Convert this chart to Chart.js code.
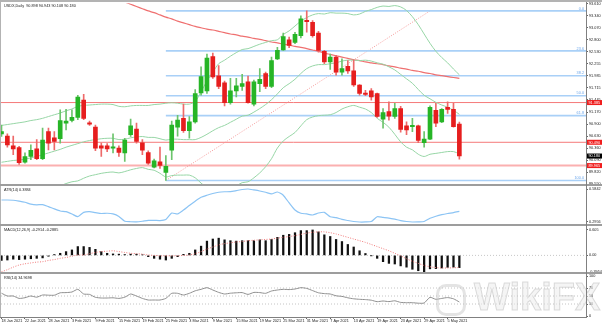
<!DOCTYPE html>
<html>
<head>
<meta charset="utf-8">
<script src="https://cdn.jsdelivr.net/npm/chart.js@4.4.1/dist/chart.umd.min.js"></script>
<style>
  html, body { margin: 0; padding: 0; background: #fff; }
  #wrap { position: relative; width: 602px; height: 325px; overflow: hidden; background: #fff; }
  #wrap canvas { position: absolute; left: 0; }
  .line { position: absolute; }
  #mark { position: absolute; left: 436px; top: 276px; white-space: nowrap; line-height: 40px;
          font: bold 38px "Liberation Sans", sans-serif; color: rgba(236, 236, 236, 0.55);
          -webkit-text-stroke: 1px rgba(180, 180, 180, 0.45); }
  #mark span.icon { display: inline-block; width: 30px; height: 32px; border: 3px solid rgba(195,195,195,0.45);
          border-radius: 10px; vertical-align: -6px; margin-right: 8px; box-sizing: border-box; }
</style>
</head>
<body>
<div id="wrap">
  <canvas id="mainChart" width="602" height="190" style="top:0"></canvas>
  <canvas id="atrChart" width="602" height="50" style="top:180px"></canvas>
  <canvas id="macdChart" width="602" height="58" style="top:220px"></canvas>
  <canvas id="rsiChart" width="602" height="57" style="top:268px"></canvas>
  <div id="mark"><span class="icon"></span>WikiFX</div>
  <div class="line" style="left:0;top:0;width:602px;height:2px;background:#b3b3b3"></div>
  <div class="line" style="left:0;top:0;width:1px;height:318px;background:#b3b3b3"></div>
  <div class="line" style="left:0;top:184px;width:602px;height:2px;background:#9d9d9d"></div>
  <div class="line" style="left:0;top:224px;width:602px;height:2px;background:#9d9d9d"></div>
  <div class="line" style="left:0;top:272px;width:602px;height:2px;background:#9d9d9d"></div>
  <div class="line" style="left:0;top:317px;width:587px;height:1px;background:#808080"></div>
  <div class="line" style="left:586px;top:2px;width:1px;height:316px;background:#808080"></div>
</div>
<script>
// daily candles, 18 Jan 2021 .. 7 May 2021
const opens = [90.68, 90.63, 90.41, 90.37, 90.04, 90.17, 90.34, 90.12, 90.73, 90.59,
  90.57, 90.92, 90.98, 91.05, 91.44, 90.93, 90.83, 90.41, 90.41, 90.36,
  90.36, 90.25, 90.66, 90.79, 90.48, 90.26, 89.93, 90.05, 89.81, 90.31,
  90.83, 91.03, 90.75, 90.95, 91.60, 91.65, 92.42, 91.99, 91.83, 91.38,
  91.65, 91.75, 91.85, 91.35, 91.81, 92.04, 91.75, 92.37, 92.57, 92.80,
  92.74, 92.89, 93.24, 93.19, 92.95, 92.54, 92.30, 92.41, 92.07, 92.20,
  92.10, 91.78, 91.60, 91.65, 91.59, 91.01, 91.18, 91.07, 91.25, 90.86,
  90.84, 90.86, 90.48, 90.56, 91.21, 90.95, 91.28, 91.23, 90.898];
const highs = [90.88, 90.68, 90.63, 90.40, 90.25, 90.43, 90.55, 90.81, 90.81, 90.73,
  91.22, 91.23, 91.22, 91.55, 91.57, 90.97, 90.88, 90.47, 90.46, 90.68,
  90.41, 90.58, 91.01, 90.92, 90.55, 90.30, 90.11, 90.38, 90.19, 90.97,
  91.10, 91.35, 91.07, 91.68, 92.19, 92.48, 92.50, 92.22, 91.87, 91.93,
  91.93, 92.02, 91.98, 91.89, 92.15, 92.07, 92.41, 92.63, 92.95, 92.86,
  92.97, 93.34, 93.45, 93.23, 92.99, 92.56, 92.48, 92.45, 92.37, 92.33,
  92.35, 91.79, 91.66, 91.70, 91.60, 91.25, 91.40, 91.37, 91.30, 90.95,
  91.03, 90.88, 90.73, 91.31, 91.37, 91.25, 91.40, 91.37, 90.943];
const lows = [90.62, 90.38, 90.21, 89.99, 90.02, 90.10, 90.10, 90.10, 90.32, 90.32,
  90.47, 90.77, 90.95, 91.00, 91.00, 90.87, 90.30, 90.17, 90.28, 90.25,
  90.17, 90.06, 90.62, 90.47, 90.21, 89.99, 89.91, 89.90, 89.63, 90.10,
  90.63, 90.71, 90.58, 90.92, 91.55, 91.59, 91.93, 91.70, 91.31, 91.35,
  91.51, 91.66, 91.37, 91.31, 91.63, 91.70, 91.72, 92.35, 92.56, 92.62,
  92.71, 92.84, 92.97, 92.86, 92.52, 92.26, 92.13, 92.00, 92.00, 92.04,
  91.75, 91.55, 91.54, 91.44, 91.05, 90.81, 90.99, 91.03, 90.72, 90.66,
  90.73, 90.48, 90.38, 90.55, 90.84, 90.93, 91.14, 90.83, 90.108];
const closes = [90.73, 90.43, 90.34, 90.03, 90.17, 90.31, 90.12, 90.54, 90.47, 90.51,
  90.98, 90.97, 91.05, 91.51, 91.03, 90.90, 90.36, 90.36, 90.34, 90.39,
  90.26, 90.54, 90.86, 90.51, 90.31, 90.02, 90.07, 89.97, 89.95, 90.88,
  90.99, 90.75, 90.95, 91.59, 91.97, 92.39, 91.96, 91.75, 91.38, 91.65,
  91.76, 91.81, 91.38, 91.85, 91.91, 91.75, 92.33, 92.56, 92.87, 92.67,
  92.92, 93.27, 93.21, 92.89, 92.56, 92.30, 92.41, 92.07, 92.15, 92.10,
  91.78, 91.59, 91.57, 91.51, 91.07, 91.16, 91.08, 91.25, 90.78, 90.77,
  90.87, 90.53, 90.56, 91.28, 90.92, 91.23, 91.23, 90.84, 90.18];

// Bollinger bands (20, 2)
const bbMid = [90.04, 90.06, 90.08, 90.09, 90.11, 90.14, 90.17, 90.21, 90.25, 90.29,
  90.33, 90.38, 90.42, 90.46, 90.50, 90.53, 90.55, 90.57, 90.58, 90.58,
  90.55, 90.56, 90.59, 90.61, 90.62, 90.60, 90.60, 90.57, 90.54, 90.56,
  90.56, 90.55, 90.55, 90.55, 90.60, 90.67, 90.75, 90.82, 90.87, 90.94,
  91.01, 91.08, 91.10, 91.17, 91.25, 91.34, 91.45, 91.58, 91.72, 91.81,
  91.91, 92.04, 92.15, 92.21, 92.24, 92.24, 92.26, 92.28, 92.32, 92.34,
  92.34, 92.33, 92.34, 92.32, 92.28, 92.25, 92.19, 92.12, 92.02, 91.92,
  91.82, 91.68, 91.55, 91.47, 91.39, 91.33, 91.28, 91.21, 91.12];
const bbUpper = [90.87, 90.89, 90.91, 90.93, 90.95, 90.98, 91.00, 91.03, 91.07, 91.11,
  91.15, 91.20, 91.24, 91.30, 91.32, 91.33, 91.34, 91.35, 91.35, 91.34,
  91.30, 91.29, 91.31, 91.32, 91.32, 91.32, 91.34, 91.35, 91.37, 91.38,
  91.37, 91.35, 91.35, 91.41, 91.63, 91.87, 92.07, 92.26, 92.34, 92.43,
  92.51, 92.58, 92.60, 92.65, 92.70, 92.74, 92.78, 92.80, 92.92, 93.00,
  93.11, 93.22, 93.30, 93.36, 93.39, 93.38, 93.41, 93.40, 93.40, 93.39,
  93.36, 93.38, 93.44, 93.48, 93.53, 93.56, 93.55, 93.57, 93.54, 93.46,
  93.32, 93.14, 92.93, 92.72, 92.54, 92.40, 92.28, 92.14, 92.01];
const bbLower = [89.21, 89.23, 89.25, 89.25, 89.27, 89.30, 89.34, 89.39, 89.43, 89.47,
  89.51, 89.56, 89.60, 89.62, 89.68, 89.73, 89.76, 89.79, 89.81, 89.82,
  89.80, 89.83, 89.87, 89.90, 89.92, 89.88, 89.86, 89.79, 89.71, 89.74,
  89.75, 89.75, 89.75, 89.69, 89.57, 89.47, 89.43, 89.38, 89.40, 89.45,
  89.51, 89.58, 89.60, 89.69, 89.80, 89.94, 90.12, 90.36, 90.52, 90.62,
  90.71, 90.86, 91.00, 91.06, 91.09, 91.10, 91.11, 91.16, 91.24, 91.29,
  91.32, 91.28, 91.24, 91.16, 91.03, 90.94, 90.83, 90.67, 90.50, 90.38,
  90.32, 90.22, 90.17, 90.22, 90.24, 90.26, 90.28, 90.28, 90.23];

// slow moving average (red), only visible from late January on
const maLine = [null, null, null, null, null, null, null, null, null, null,
  null, null, null, null, null, null, null, null, 93.75, 93.72,
  93.68, 93.65, 93.60, 93.55, 93.50, 93.45, 93.41, 93.36, 93.31, 93.27,
  93.22, 93.18, 93.14, 93.10, 93.07, 93.04, 93.02, 92.99, 92.96, 92.93,
  92.91, 92.88, 92.86, 92.83, 92.81, 92.78, 92.75, 92.73, 92.70, 92.68,
  92.65, 92.63, 92.60, 92.57, 92.54, 92.50, 92.47, 92.44, 92.41, 92.38,
  92.35, 92.33, 92.30, 92.28, 92.26, 92.24, 92.21, 92.19, 92.16, 92.14,
  92.11, 92.09, 92.06, 92.04, 92.01, 91.99, 91.97, 91.95, 91.93];

// fibonacci retracement between the Feb low and the Mar high
const fibLevels = [93.45, 92.55, 91.99, 91.54, 91.09, 89.63];
const fibText = ['0.0', '23.6', '38.2', '50.0', '61.8', '100.0'];
const fibStart = 28;
const fibDiagonal = [{x: 28, y: 89.63}, {x: 73, y: 93.45}];

// horizontal levels with their price tags
const hLevels = [91.385, 90.490, 89.965];
const hText = ['91.385', '90.490', '89.965'];
const lastPrice = 90.180;

const atr = [0.488, 0.488, 0.486, 0.478, 0.468, 0.452, 0.446, 0.448, 0.430, 0.410,
  0.392, 0.386, 0.366, 0.342, 0.380, 0.386, 0.378, 0.370, 0.372, 0.366,
  0.344, 0.302, 0.298, 0.297, 0.302, 0.309, 0.310, 0.308, 0.318, 0.374,
  0.366, 0.400, 0.440, 0.478, 0.512, 0.530, 0.545, 0.556, 0.560, 0.561,
  0.570, 0.580, 0.5842, 0.576, 0.567, 0.556, 0.541, 0.558, 0.530, 0.462,
  0.400, 0.372, 0.366, 0.357, 0.374, 0.380, 0.342, 0.334, 0.318, 0.309,
  0.300, 0.2956, 0.2960, 0.300, 0.342, 0.336, 0.330, 0.320, 0.308, 0.300,
  0.2956, 0.297, 0.300, 0.328, 0.346, 0.360, 0.370, 0.378, 0.3884];

const macdMain = [-0.12, -0.11, -0.09, -0.10, -0.09, -0.08, -0.07, -0.06, -0.02, 0.02,
  0.05, 0.09, 0.13, 0.21, 0.21, 0.19, 0.145, 0.09, 0.05, 0.035,
  0.03, 0.02, 0.03, 0.03, 0.015, -0.03, -0.07, -0.09, -0.11, -0.07,
  -0.03, 0.025, 0.05, 0.13, 0.22, 0.34, 0.39, 0.41, 0.37, 0.35,
  0.34, 0.35, 0.35, 0.35, 0.37, 0.35, 0.38, 0.43, 0.48, 0.50,
  0.54, 0.59, 0.59, 0.605, 0.56, 0.49, 0.45, 0.38, 0.33, 0.26,
  0.20, 0.11, 0.045, -0.005, -0.07, -0.15, -0.19, -0.205, -0.25, -0.28,
  -0.33, -0.365, -0.3954, -0.32, -0.315, -0.30, -0.285, -0.28, -0.2914];
const macdSignal = [-0.39, -0.34, -0.28, -0.23, -0.20, -0.18, -0.16, -0.15, -0.12, -0.10,
  -0.07, -0.05, -0.02, 0.01, 0.01, 0.04, 0.07, 0.09, 0.10, 0.11,
  0.09, 0.07, 0.05, 0.04, 0.03, 0.01, 0.0, -0.01, -0.01, -0.01,
  -0.01, 0.0, 0.01, 0.04, 0.09, 0.15, 0.20, 0.25, 0.28, 0.30,
  0.32, 0.33, 0.35, 0.36, 0.37, 0.38, 0.39, 0.41, 0.43, 0.45,
  0.47, 0.50, 0.53, 0.55, 0.56, 0.56, 0.54, 0.51, 0.47, 0.43,
  0.39, 0.35, 0.31, 0.26, 0.21, 0.16, 0.11, 0.05, -0.01, -0.08,
  -0.14, -0.19, -0.24, -0.27, -0.29, -0.30, -0.30, -0.295, -0.2885];

const rsi = [57, 50, 50, 44, 45.7, 50, 47, 52.5, 52, 52,
  58, 58.5, 60, 66.7, 55, 54, 46.7, 45, 45, 45.5,
  44, 47, 55, 50, 44, 40, 40, 40, 44, 56.7,
  56.7, 52.5, 56.7, 63, 66.7, 70.8, 65, 59, 55, 57,
  58, 58.5, 54, 59, 58.5, 56.7, 62.5, 65, 66.7, 66,
  67.5, 70.8, 69, 63.5, 58, 56, 55, 50.5, 49, 45.5,
  43, 41.7, 41, 39.5, 35.8, 37.5, 36, 38, 34, 33.3,
  33.3, 32, 32.5, 46.7, 41.7, 44, 46, 43, 34.9698];

// axis ticks
const priceTicks = [93.610, 93.340, 93.070, 92.800, 92.530, 92.255, 91.985, 91.715, 91.445,
  91.170, 90.900, 90.630, 90.360, 90.090, 89.820, 89.550];
const atrTicks = [0.5842, 0.2956];
const macdTicks = [0.605, 0, -0.3954];
const macdTickText = ['0.605', '0.00', '-0.3954'];
const rsiTicks = [100, 70, 50, 30, 0];
const dateTickIdx = [0, 4, 8, 12, 16, 20, 24, 28, 32, 36, 40, 44, 48, 52, 56, 60, 64, 68, 72, 76];
const dateTickText = ['18 Jan 2021', '22 Jan 2021', '28 Jan 2021', '3 Feb 2021', '9 Feb 2021',
  '15 Feb 2021', '19 Feb 2021', '25 Feb 2021', '3 Mar 2021', '9 Mar 2021', '15 Mar 2021',
  '19 Mar 2021', '25 Mar 2021', '31 Mar 2021', '7 Apr 2021', '13 Apr 2021', '19 Apr 2021',
  '23 Apr 2021', '29 Apr 2021', '5 May 2021'];

const xMin = -0.085, xMax = 99.575;
const FONT = '"Liberation Sans", Arial, sans-serif';
const SMALL = 3.8;
const UP = '#26b526', DOWN = '#e61e1e';

const pts = arr => arr.map((v, i) => ({x: i, y: v})).filter(p => p.y !== null);
const flat = (v, from, to) => [{x: from, y: v}, {x: to, y: v}];

function xAxis() {
  return { type: 'linear', min: xMin, max: xMax, offset: false, display: false };
}
function yAxis(min, max, ticks, fmt) {
  return {
    position: 'right', min: min, max: max, beginAtZero: false,
    afterFit(s) { s.width = 16; },
    afterBuildTicks(s) { s.ticks = ticks.map(v => ({value: v})); },
    ticks: { autoSkip: false, padding: 1, color: '#222', font: {size: SMALL, family: FONT}, callback: fmt },
    grid: { drawOnChartArea: false, drawTicks: true, tickLength: 2, color: '#666' },
    border: { display: true, color: '#808080' }
  };
}

// small caption in the top-left corner of each pane
const caption = {
  id: 'caption',
  afterDraw(chart, args, opts) {
    const ctx = chart.ctx;
    ctx.save();
    ctx.font = SMALL + 'px ' + FONT;
    ctx.fillStyle = '#222';
    ctx.textBaseline = 'top';
    ctx.fillText(opts.text, 4, chart.chartArea.top + 1);
    ctx.restore();
  }
};

// fib labels and price tags on the price pane
const priceMarks = {
  id: 'priceMarks',
  afterDraw(chart) {
    const ctx = chart.ctx, y = chart.scales.y, area = chart.chartArea;
    ctx.save();
    ctx.font = SMALL + 'px ' + FONT;
    ctx.textAlign = 'right';
    ctx.textBaseline = 'bottom';
    ctx.fillStyle = '#6ea8ec';
    fibLevels.forEach((v, i) => ctx.fillText(fibText[i], area.right - 2, y.getPixelForValue(v) - 0.5));
    ctx.textAlign = 'left';
    ctx.textBaseline = 'middle';
    const tag = (v, text, bg) => {
      const py = y.getPixelForValue(v);
      ctx.fillStyle = bg;
      ctx.fillRect(587, py - 2.5, 15, 5);
      ctx.fillStyle = '#fff';
      ctx.fillText(text, 588.5, py + 0.3);
    };
    hLevels.forEach((v, i) => tag(v, hText[i], '#f01e1e'));
    tag(lastPrice, lastPrice.toFixed(3), '#000');
    ctx.restore();
  }
};

const base = {
  responsive: false, animation: false, events: [],
  plugins: { legend: { display: false }, tooltip: { enabled: false } }
};

// price pane
new Chart(document.getElementById('mainChart'), {
  type: 'bar',
  data: {
    datasets: [
      { data: pts(closes).map(p => ({x: p.x, y: [lows[p.x], highs[p.x]]})), grouped: false, barThickness: 1, order: 1,
        backgroundColor: closes.map((c, i) => c >= opens[i] ? '#6cc46c' : '#ee6a6a') },
      { data: pts(closes).map(p => ({x: p.x, y: [opens[p.x], closes[p.x]]})), grouped: false, barThickness: 4, minBarLength: 1, order: 0,
        backgroundColor: closes.map((c, i) => c >= opens[i] ? UP : DOWN) },
      { type: 'line', data: pts(bbUpper), borderColor: '#97d6a6', borderWidth: 1, pointRadius: 0, tension: 0.3, order: 2 },
      { type: 'line', data: pts(bbMid), borderColor: '#97d6a6', borderWidth: 1, pointRadius: 0, tension: 0.3, order: 2 },
      { type: 'line', data: pts(bbLower), borderColor: '#97d6a6', borderWidth: 1, pointRadius: 0, tension: 0.3, order: 2 },
      { type: 'line', data: pts(maLine), borderColor: '#ef7070', borderWidth: 1.2, pointRadius: 0, tension: 0.3, order: 2 },
      ...fibLevels.map(v => ({ type: 'line', data: flat(v, fibStart, xMax), borderColor: '#a9d0f7', borderWidth: 1.6, pointRadius: 0, order: 3 })),
      { type: 'line', data: fibDiagonal, borderColor: '#f59a9a', borderWidth: 1, borderDash: [1, 1.5], pointRadius: 0, order: 3 },
      { type: 'line', data: flat(hLevels[0], xMin, xMax), borderColor: '#f57a7a', borderWidth: 1, pointRadius: 0, order: 3 },
      { type: 'line', data: flat(hLevels[1], xMin, xMax), borderColor: '#f57a7a', borderWidth: 1, pointRadius: 0, order: 3 },
      { type: 'line', data: flat(hLevels[2], xMin, xMax), borderColor: '#fbb0b0', borderWidth: 2, pointRadius: 0, order: 3 }
    ]
  },
  options: {
    ...base,
    layout: { padding: { left: 1, right: 0, top: 3, bottom: 6 } },
    scales: { x: xAxis(), y: yAxis(89.55, 93.622, priceTicks, v => v.toFixed(3)) },
    plugins: { ...base.plugins, caption: { text: 'USDX,Daily  90.898 90.943 90.108 90.180' } }
  },
  plugins: [caption, priceMarks]
});

// ATR pane
new Chart(document.getElementById('atrChart'), {
  type: 'line',
  data: { datasets: [{ data: pts(atr), borderColor: '#8cc4f4', borderWidth: 1.2, pointRadius: 0, tension: 0.2 }] },
  options: {
    ...base,
    layout: { padding: { left: 1, right: 0, top: 7, bottom: 6 } },
    scales: { x: xAxis(), y: yAxis(0.2781, 0.6017, atrTicks, v => v.toFixed(4)) },
    plugins: { ...base.plugins, caption: { text: 'ATR(14) 0.3884' } }
  },
  plugins: [caption]
});

// MACD pane
new Chart(document.getElementById('macdChart'), {
  type: 'bar',
  data: {
    datasets: [
      { data: pts(macdMain), backgroundColor: '#111', barThickness: 1.6, grouped: false, order: 1 },
      { type: 'line', data: pts(macdSignal), borderColor: '#f07a7a', borderWidth: 1, borderDash: [1, 1.5], pointRadius: 0, tension: 0.3, order: 0 },
      { type: 'line', data: flat(0, xMin, xMax), borderColor: '#c8c8c8', borderWidth: 1, borderDash: [1, 2], pointRadius: 0, order: 2 }
    ]
  },
  options: {
    ...base,
    layout: { padding: { left: 1, right: 0, top: 7, bottom: 6 } },
    scales: { x: xAxis(), y: yAxis(-0.3954, 0.676, macdTicks, v => macdTickText[macdTicks.indexOf(v)]) },
    plugins: { ...base.plugins, caption: { text: 'MACD(12,26,9) -0.2914 -0.2885' } }
  },
  plugins: [caption]
});

// RSI pane, carries the date axis
new Chart(document.getElementById('rsiChart'), {
  type: 'line',
  data: {
    datasets: [
      { data: pts(rsi), borderColor: '#8e8e8e', borderWidth: 1, pointRadius: 0, tension: 0.2 },
      ...[70, 50, 30].map(v => ({ data: flat(v, xMin, xMax), borderColor: '#c4c4c4', borderWidth: 1, borderDash: [1, 2], pointRadius: 0 }))
    ]
  },
  options: {
    ...base,
    layout: { padding: { left: 1, right: 0, top: 7, bottom: 0 } },
    scales: {
      x: {
        type: 'linear', min: xMin, max: xMax, offset: false,
        afterFit(s) { s.height = 8; },
        afterBuildTicks(s) { s.ticks = dateTickIdx.map(v => ({value: v})); },
        ticks: { autoSkip: false, maxRotation: 0, align: 'start', padding: 0, color: '#222',
                 font: {size: SMALL, family: FONT}, callback: v => dateTickText[dateTickIdx.indexOf(v)] },
        grid: { drawOnChartArea: false, drawTicks: true, tickLength: 2, color: '#666' },
        border: { display: false }
      },
      y: yAxis(-2.5, 102.5, rsiTicks, v => String(v))
    },
    plugins: { ...base.plugins, caption: { text: 'RSI(14) 34.9698' } }
  },
  plugins: [caption]
});
</script>
</body>
</html>
